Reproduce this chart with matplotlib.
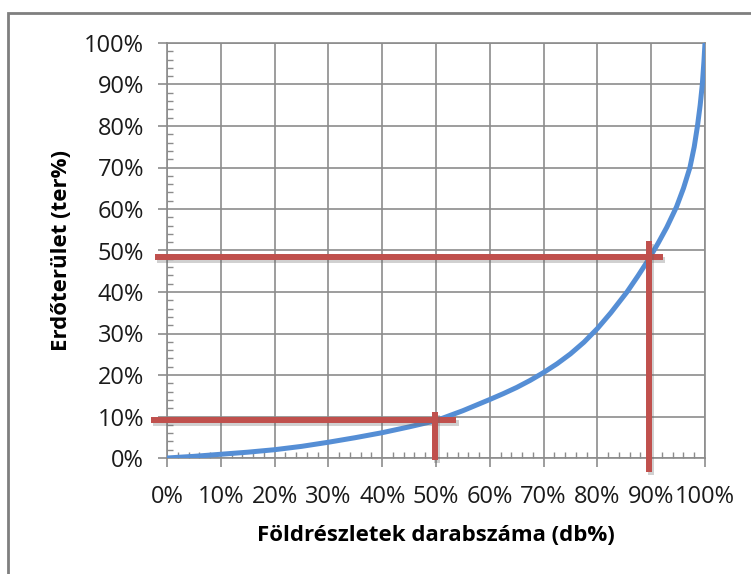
import matplotlib
matplotlib.use("Agg")
import matplotlib.pyplot as plt
import matplotlib.patheffects as pe
from matplotlib.patches import Rectangle
from matplotlib.ticker import MultipleLocator, PercentFormatter

# curve (db% -> ter%)
db_pct = [0, 5, 10, 15, 20, 25, 30, 35, 40, 45, 50, 55, 60, 62.5, 65, 67.5, 70, 72.5, 75, 77.5, 80,
          82.5, 85.5, 87.5, 89.6, 91.3, 92.9, 94.7, 96, 97.2, 98, 98.6, 99.1, 99.5, 99.8, 100]
ter_pct = [0, 0.4, 0.9, 1.4, 2.0, 2.8, 3.8, 4.9, 6.1, 7.5, 9.0, 11.4, 14.1, 15.5, 17.0, 18.7, 20.6, 22.7, 25.1,
           27.9, 31.2, 35.0, 40, 43.8, 48.0, 51.8, 55.6, 60.5, 65, 70, 75, 80, 85, 90, 95.5, 100]

# red marker lines: horizontal (y, x_start, x_end) and vertical (x, y_start, y_end)
hline_y = [9.2, 48.4]
hline_x0 = [-2.9, -2.3]
hline_x1 = [53.8, 92.2]
vline_x = [49.8, 89.6]
vline_y0 = [-0.6, -3.4]
vline_y1 = [11.0, 52.3]

plt.rcParams['font.family'] = ['Open Sans', 'DejaVu Sans']
grid_col = '#8c8c8c'
blue = '#558ED5'
red = '#C0504D'

fig = plt.figure(figsize=(7.51, 5.74), dpi=100)
ax = fig.add_axes([167 / 751, 1 - 458 / 574, (705 - 167) / 751, (458 - 43) / 574])

# outer chart frame (only left and top edges are inside the picture)
fig.add_artist(Rectangle((8 / 751, -0.5), 2.0, 0.5 + 1 - 13 / 574, transform=fig.transFigure,
                         fill=False, edgecolor='#7f7f7f', linewidth=2))

ax.plot(db_pct, ter_pct, color=blue, linewidth=3.6, solid_capstyle='butt',
        solid_joinstyle='round', zorder=3)

shadow = [pe.SimpleLineShadow(offset=(1.5, -2), shadow_color='#666666', alpha=0.3), pe.Normal()]
for y, x0, x1 in zip(hline_y, hline_x0, hline_x1):
    ax.plot([x0, x1], [y, y], color=red, linewidth=4.3, solid_capstyle='butt',
            clip_on=False, zorder=4, path_effects=shadow)
for x, y0, y1 in zip(vline_x, vline_y0, vline_y1):
    ax.plot([x, x], [y0, y1], color=red, linewidth=4.3, solid_capstyle='butt',
            clip_on=False, zorder=4, path_effects=shadow)

ax.set_xlim(0, 100)
ax.set_ylim(0, 100)
ax.xaxis.set_major_locator(MultipleLocator(10))
ax.yaxis.set_major_locator(MultipleLocator(10))
ax.xaxis.set_minor_locator(MultipleLocator(2))
ax.yaxis.set_minor_locator(MultipleLocator(2))
ax.xaxis.set_major_formatter(PercentFormatter(decimals=0))
ax.yaxis.set_major_formatter(PercentFormatter(decimals=0))

ax.grid(True, which='major', color=grid_col, linewidth=1.2)
ax.set_axisbelow(True)
for s in ax.spines.values():
    s.set_color(grid_col)
    s.set_linewidth(1.2)

ax.tick_params(which='major', direction='out', length=6.5, width=1.2, color=grid_col,
               labelsize=17, labelcolor='#1a1a1a')
ax.tick_params(axis='x', which='major', pad=13)
ax.tick_params(axis='y', which='major', pad=10)
ax.tick_params(which='minor', direction='in', length=4, width=1, color=grid_col)

ax.set_xlabel('Földrészletek darabszáma (db%)', fontsize=16, fontweight='bold')
ax.set_ylabel('Erdőterület (ter%)', fontsize=16, fontweight='bold')
ax.xaxis.set_label_coords(0.5, -0.162)
ax.yaxis.set_label_coords(-0.176, 0.5)

fig.savefig('out.png', dpi=100)
